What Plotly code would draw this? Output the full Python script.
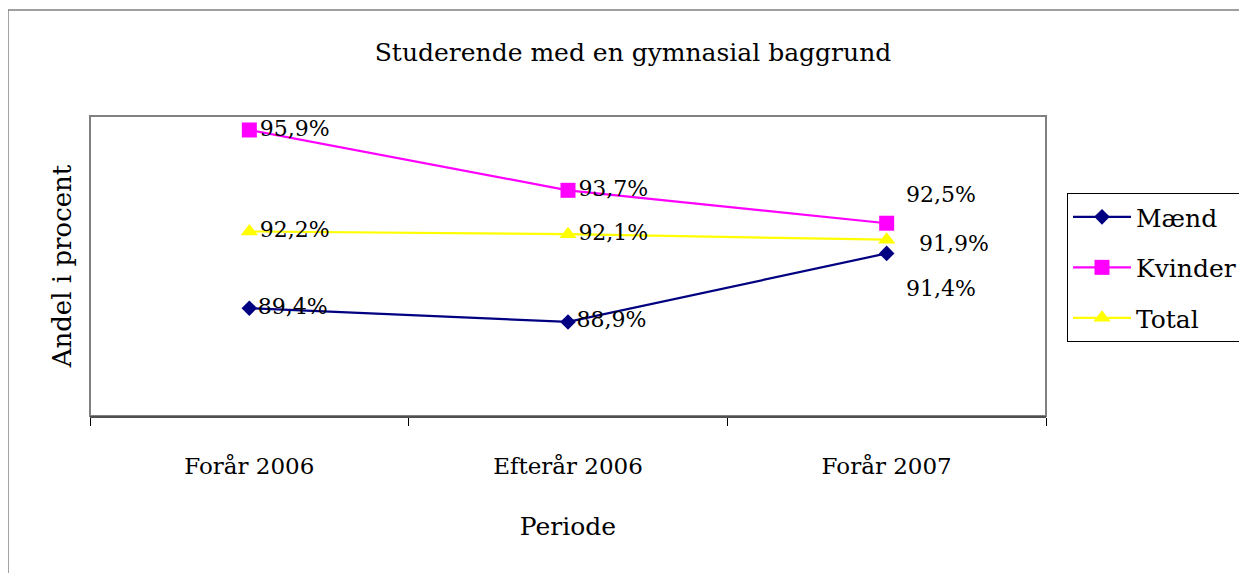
import plotly.graph_objects as go

categories = ["Forår 2006", "Efterår 2006", "Forår 2007"]
maend = [89.4, 88.9, 91.4]
kvinder = [95.9, 93.7, 92.5]
total = [92.2, 92.1, 91.9]

FONT = "DejaVu Serif"

def fmt(v):
    return f"{v:.1f}".replace(".", ",") + "%"

series = [
    ("Mænd", maend, "#000080", "diamond", 12),
    ("Kvinder", kvinder, "#FF00FF", "square", 15),
    ("Total", total, "#FFFF00", "triangle-up", 15),
]

fig = go.Figure()
for i, (name, vals, col, sym, sz) in enumerate(series):
    texts = [fmt(v) for v in vals[:-1]] + [""]
    fig.add_trace(go.Scatter(
        x=categories, y=vals, name=name, mode="lines+markers+text",
        line=dict(color=col, width=2.2),
        marker=dict(symbol=sym, size=sz, color=col),
        text=texts, textposition="middle right",
        textfont=dict(family=FONT, size=22, color="black"),
        legendgroup=f"g{i}", cliponaxis=False,
    ))

# labels of the last category, placed as in the reference
offsets = {"Mænd": (54, -35), "Kvinder": (54, 29), "Total": (67, -4)}
for name, vals, col, sym, sz in series:
    dx, dy = offsets[name]
    fig.add_annotation(x=categories[-1], y=vals[-1], text=fmt(vals[-1]),
                       showarrow=False, xshift=dx, yshift=dy,
                       font=dict(family=FONT, size=22, color="black"))

# outer chart border
fig.add_shape(type="rect", xref="paper", yref="paper",
              x0=-0.0858, y0=-0.6, x1=1.3, y1=1.3533,
              line=dict(color="#808080", width=1.5), fillcolor="rgba(0,0,0,0)")

W, H = 1239, 565
L, T = 82, 108
PW, PH = 956, 300
fig.update_layout(
    width=W, height=H,
    margin=dict(l=L, r=W - L - PW, t=T, b=H - T - PH, autoexpand=False),
    paper_bgcolor="white", plot_bgcolor="white",
    font=dict(family=FONT, color="black"),
    title=dict(text="Studerende med en gymnasial baggrund", x=625 / W, xanchor="center",
               y=1 - 44 / H, yanchor="middle", yref="container",
               font=dict(family=FONT, size=25, color="black")),
    xaxis=dict(type="category", range=[-0.5, 2.5], tickson="boundaries",
               ticks="outside", ticklen=8, tickcolor="black", tickwidth=1,
               showline=True, linecolor="#505050", linewidth=2, mirror=False,
               showgrid=False, zeroline=False,
               tickfont=dict(family=FONT, size=23, color="black"),
               ticklabelstandoff=28,
               title=dict(text="Periode", font=dict(family=FONT, size=25, color="black"), standoff=40)),
    yaxis=dict(range=[85.47, 96.41], showticklabels=False, ticks="", showgrid=False,
               zeroline=False, showline=False,
               title=dict(text="Andel i procent", font=dict(family=FONT, size=26, color="black"), standoff=9)),
    legend=dict(x=977 / PW, y=0.743, xanchor="left", yanchor="top",
                bordercolor="black", borderwidth=1, bgcolor="white",
                font=dict(family=FONT, size=25, color="black"),
                tracegroupgap=15, itemwidth=58),
    showlegend=True,
)

# plot area frame (gray)
fig.add_shape(type="rect", xref="paper", yref="paper", x0=0, y0=0, x1=1, y1=1,
              line=dict(color="#808080", width=2), fillcolor="rgba(0,0,0,0)", layer="below")

fig.write_html("out.html")
